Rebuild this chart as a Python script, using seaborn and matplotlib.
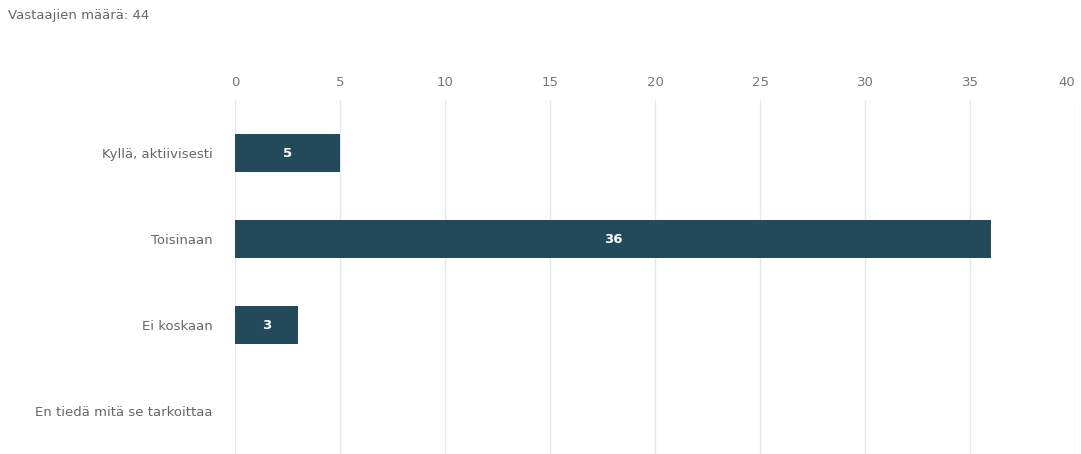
import numpy as np
import pandas as pd
import matplotlib.pyplot as plt
import seaborn as sns

# survey answers
categories = ["Kyllä, aktiivisesti", "Toisinaan", "Ei koskaan", "En tiedä mitä se tarkoittaa"]
counts = [5, 36, 3, 0]
x_ticks = [0, 5, 10, 15, 20, 25, 30, 35, 40]
title = "Vastaajien määrä: 44"

data = pd.DataFrame({"vastaus": categories, "maara": counts})

sns.set_style("white")
plt.rcParams["font.family"] = ["DejaVu Sans"]

fig = plt.figure(figsize=(10.81, 4.54), dpi=100)
ax = fig.add_axes([0.2174, 0.0, 0.7771, 0.78])

sns.barplot(data=data, x="maara", y="vastaus", orient="h", color="#234a5a",
            saturation=1, width=0.44, linewidth=0, ax=ax)

for bar, val in zip(ax.patches, counts):
    if val > 0:
        ax.text(bar.get_x() + bar.get_width() / 2, bar.get_y() + bar.get_height() / 2,
                str(val), ha="center", va="center", color="white",
                fontsize=9.5, fontweight="bold")

ax.set_xlim(0, 40)
ax.set_ylim(3.5, -0.62)
ax.set_xticks(x_ticks)
ax.xaxis.tick_top()
ax.tick_params(axis="x", length=0, pad=8, labelsize=9.5, labelcolor="#777777")
ax.tick_params(axis="y", length=0, pad=16, labelsize=9.5, labelcolor="#666666")
ax.get_xticklabels()[-1].set_horizontalalignment("right")
ax.grid(axis="x", color="#e8e8ec", linewidth=1)
ax.set_axisbelow(True)
for s in ax.spines.values():
    s.set_visible(False)
ax.set_xlabel("")
ax.set_ylabel("")

fig.text(0.0075, 0.965, title, fontsize=9.5, color="#666666", ha="left", va="center")

fig.savefig("out.png", dpi=100)
